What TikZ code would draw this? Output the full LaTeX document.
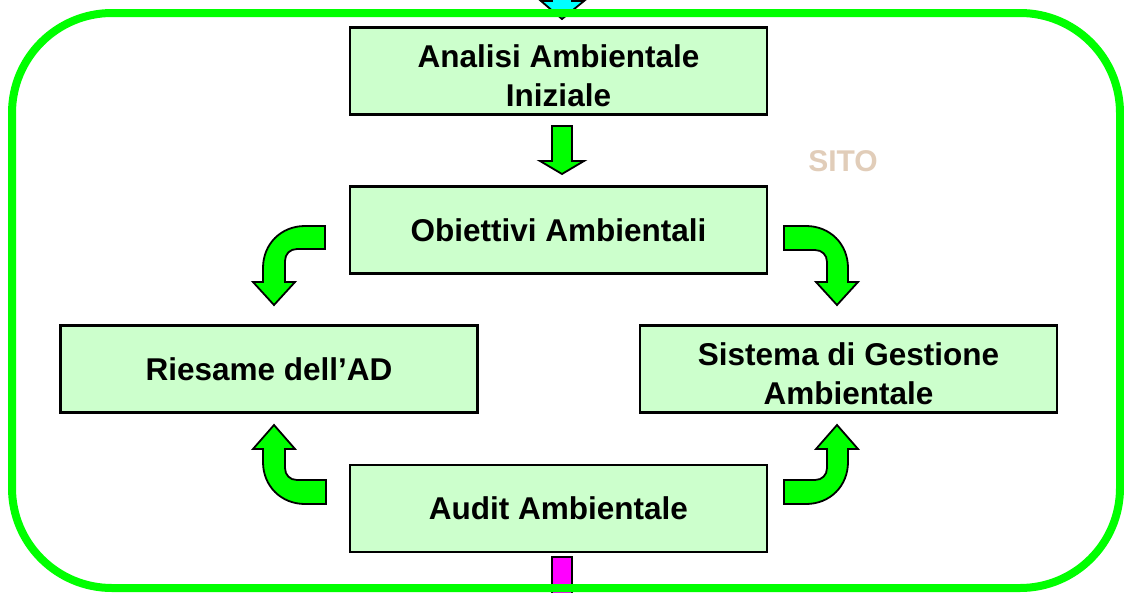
\documentclass[tikz,border=0pt]{standalone}
\usepackage{fontspec}
\setmainfont{Liberation Sans}
\definecolor{boxfill}{RGB}{204,255,204}
\definecolor{frgreen}{RGB}{0,255,0}
\definecolor{sito}{RGB}{225,205,185}
\definecolor{incyan}{RGB}{0,255,255}
\definecolor{outmag}{RGB}{255,0,255}
\begin{document}
\begin{tikzpicture}[x=1pt,y=-1pt,
  box/.style={draw=black,line width=2.6pt,fill=boxfill,minimum width=417pt,minimum height=87pt,
    align=center,font=\fontsize{31.5}{39}\selectfont\bfseries,inner sep=0pt},
  blockarrow/.style={draw=black,line width=1.8pt,fill=frgreen,line join=miter},
  frame/.style={draw=frgreen,line width=8pt,rounded corners=100pt}]
\useasboundingbox (0,0) rectangle (1124,592);
\clip (0,0) rectangle (1124,592);
% incoming cyan arrow
\draw[draw=black,line width=1.8pt,fill=incyan] (552,-20) -- (552,1) -- (541,1) -- (562,19) -- (584,1) -- (572,1) -- (572,-20) -- cycle;
% outgoing magenta bar
\draw[draw=black,line width=2pt,fill=outmag] (552,557) rectangle (572,600);
% site frame
\draw[frame] (12,13) rectangle (1120,588);
\node[font=\fontsize{30}{36}\selectfont\bfseries,text=sito] (sito) at (843,161) {SITO};
% boxes
\node[box] (analisi) at (558.5,71) {};
\node[font=\fontsize{31.5}{39}\selectfont\bfseries,align=center,inner sep=0pt] (analisitext) at (558.5,76) {Analisi Ambientale\\Iniziale};
\node[box] (obiettivi) at (558.5,230) {Obiettivi Ambientali};
\node[box] (riesame) at (269,369) {Riesame dell’AD};
\node[box] (sistema) at (848.5,369) {};
\node[font=\fontsize{31.5}{39}\selectfont\bfseries,align=center,inner sep=0pt] (sistematext) at (848.5,374) {Sistema di Gestione\\Ambientale};
\node[box] (audit) at (558.5,508.5) {Audit Ambientale};
% straight down arrow
\draw[blockarrow] (552,126) -- (552,161) -- (540,161) -- (562,174) -- (584,161) -- (572,161) -- (572,126) -- cycle;
% top-left curved arrow
\draw[blockarrow] (325,226) -- (305,226) .. controls (281,226) and (263,244) .. (263,268) -- (263,282) -- (253,282) -- (274,305) -- (295,282) -- (285,282) -- (285,261) .. controls (285,254) and (290,249) .. (297,249) -- (325,249) -- cycle;
% top-right curved arrow
\draw[blockarrow] (784,226) -- (806,226) .. controls (830,226) and (848,244) .. (848,268) -- (848,282) -- (858,282) -- (837,305) -- (816,282) -- (827,282) -- (827,262) .. controls (827,255) and (822,250) .. (815,250) -- (784,250) -- cycle;
% bottom-left curved arrow
\draw[blockarrow] (326,504) -- (305,504) .. controls (281,504) and (263,486) .. (263,462) -- (263,449) -- (253,449) -- (274,425) -- (295,449) -- (285,449) -- (285,468) .. controls (285,475) and (290,480) .. (297,480) -- (326,480) -- cycle;
% bottom-right curved arrow
\draw[blockarrow] (784,504) -- (806,504) .. controls (830,504) and (848,486) .. (848,462) -- (848,449) -- (858,449) -- (837,425) -- (816,449) -- (827,449) -- (827,468) .. controls (827,475) and (822,480) .. (815,480) -- (784,480) -- cycle;
\end{tikzpicture}
\end{document}
